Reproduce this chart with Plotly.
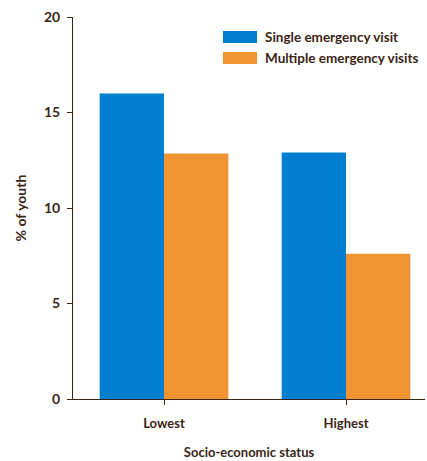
import plotly.graph_objects as go

categories = ["Lowest", "Highest"]
single_visit = [16.0, 12.9]
multiple_visits = [12.85, 7.6]
series_names = ["Single emergency visit", "Multiple emergency visits"]
y_ticks = [0, 5, 10, 15, 20]

BLUE = "#007ED0"
ORANGE = "#EF9333"
TEXT = "#3B2616"
FONT = "Lato"

fig = go.Figure()
fig.add_trace(go.Bar(x=[0, 1], y=single_visit, name=series_names[0],
                     marker=dict(color=BLUE, line=dict(width=0))))
fig.add_trace(go.Bar(x=[0, 1], y=multiple_visits, name=series_names[1],
                     marker=dict(color=ORANGE, line=dict(width=0))))

# custom legend (wide swatches), positioned in paper coordinates
PW, PH, L, B = 352, 382, 73, 399
for i, (nm, col) in enumerate(zip(series_names, [BLUE, ORANGE])):
    fig.add_shape(type="rect", xref="paper", yref="paper",
                  x0=(223 - L) / PW, x1=(257 - L) / PW,
                  y0=(B - (43 + 21 * i)) / PH, y1=(B - (31 + 21 * i)) / PH,
                  fillcolor=col, line=dict(width=0), layer="above")
    fig.add_annotation(xref="paper", yref="paper",
                       x=(263 - L) / PW, y=(B - (37 + 21 * i)) / PH,
                       text=nm, showarrow=False, xanchor="left", yanchor="middle",
                       font=dict(family=FONT, size=13.5, color=TEXT, weight="bold"))

fig.update_layout(
    width=427, height=461,
    margin=dict(l=73, r=2, t=17, b=62),
    paper_bgcolor="white", plot_bgcolor="white",
    barmode="group", bargap=0.293, bargroupgap=0,
    showlegend=False,
    font=dict(family=FONT, color=TEXT, weight="bold"),
    xaxis=dict(
        range=[-0.5, 1.434], tickmode="array", tickvals=[0, 1], ticktext=categories,
        showline=True, linecolor=TEXT, linewidth=1, showgrid=False, zeroline=False,
        ticks="outside", ticklen=5, tickcolor=TEXT, tickwidth=1,
        tickfont=dict(family=FONT, size=13, color=TEXT, weight="bold"),
        ticklabelstandoff=7,
        title=dict(text="Socio-economic status", standoff=18,
                   font=dict(family=FONT, size=13, color=TEXT, weight="bold")),
    ),
    yaxis=dict(
        range=[0, 20], tickmode="array", tickvals=y_ticks,
        showline=True, linecolor=TEXT, linewidth=1, showgrid=False, zeroline=False,
        ticks="outside", ticklen=5, tickcolor=TEXT, tickwidth=1,
        tickfont=dict(family=FONT, size=14, color=TEXT, weight="bold"),
        ticklabelstandoff=4,
        title=dict(text="% of youth", standoff=14,
                   font=dict(family=FONT, size=14, color=TEXT, weight="bold")),
    ),
)

fig.write_html("out.html", config={"displayModeBar": False},
               post_script="document.body.style.margin='0';")
